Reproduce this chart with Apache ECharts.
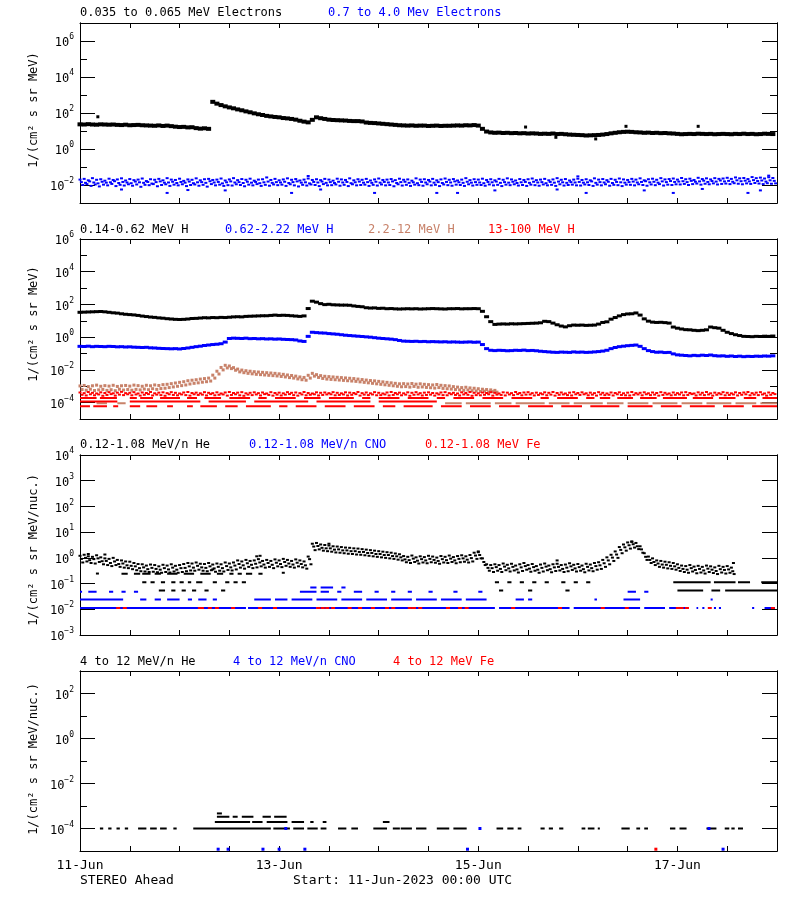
<!DOCTYPE html>
<html><head><meta charset="utf-8">
<script src="https://cdn.jsdelivr.net/npm/echarts@6/dist/echarts.min.js"></script>
<style>html,body{margin:0;padding:0;background:#fff}#c{width:800px;height:900px}</style>
</head><body><div id="c"></div>
<script>
// ===== DATA (log10 of intensity; index = hours since 11-Jun-2023 00:00 UTC) =====
const dateTickLabels = ["11-Jun","13-Jun","15-Jun","17-Jun"];
const dateTickHours = [0,48,96,144];

// Panel 1: 0.035-0.065 MeV electrons (hourly)
const elecLowLog10 = [1.37,1.36,1.38,1.36,1.35,1.37,1.36,1.35,1.36,1.34,1.33,1.35,1.32,1.33,1.34,1.32,1.31,1.30,1.29,1.31,1.28,1.30,1.27,1.24,1.22,1.23,1.20,1.21,1.16,1.13,1.15,1.12,
2.62,2.52,2.44,2.37,2.31,2.26,2.20,2.15,2.09,2.04,1.98,1.93,1.89,1.84,1.81,1.78,1.76,1.72,1.70,1.67,1.63,1.57,1.52,1.48,
1.62,1.76,1.71,1.67,1.63,1.61,1.60,1.59,1.58,1.56,1.55,1.55,1.53,
1.47,1.45,1.44,1.42,1.40,1.38,1.36,1.34,1.32,
1.31,1.30,1.31,1.29,1.30,1.30,1.28,1.29,1.30,1.28,1.29,1.29,1.30,1.31,1.30,1.32,1.31,1.33,1.30,
1.12,0.97,0.92,
0.90,0.91,0.89,0.90,0.88,0.89,0.87,0.88,0.86,0.87,0.86,0.84,0.85,0.84,0.86,0.83,0.84,
0.82,0.80,0.79,0.78,0.77,0.75,0.76,0.77,0.78,0.80,0.83,
0.87,0.90,0.93,0.95,0.96,0.95,
0.93,0.92,0.90,0.91,0.89,0.90,0.88,0.89,
0.87,0.86,0.84,0.82,0.83,0.84,0.83,0.85,
0.84,0.83,0.84,0.82,0.83,0.84,0.83,0.82,0.84,0.83,0.85,0.83,0.84,0.82,0.83,0.85,0.84,0.83];
const elecLowOutliers = [[4.3,1.79],[107.4,1.22],[131.6,1.26],[149,1.26],[124.3,0.56],[114.7,0.65]];

// Panel 1: 0.7-4.0 MeV electrons (three samples per hour: :00, :20, :40)
const elecHighLog10A = [-1.70,-1.66,-1.74,-1.62,-1.71,-1.68,-1.76,-1.65,-1.72,-1.69,-1.63,-1.75,
-1.67,-1.73,-1.70,-1.64,-1.78,-1.68,-1.71,-1.66,-1.74,-1.62,-1.70,-1.72,
-1.65,-1.77,-1.69,-1.71,-1.63,-1.74,-1.68,-1.66,-1.72,-1.70,-1.64,-1.75,
-1.69,-1.62,-1.73,-1.67,-1.71,-1.65,-1.76,-1.70,-1.68,-1.58,-1.72,-1.66,
-1.74,-1.69,-1.63,-1.71,-1.67,-1.75,-1.70,-1.64,-1.72,-1.68,-1.73,-1.66,
-1.70,-1.76,-1.65,-1.69,-1.72,-1.63,-1.74,-1.68,-1.71,-1.66,-1.75,-1.69,
-1.64,-1.72,-1.70,-1.67,-1.73,-1.65,-1.71,-1.69,-1.76,-1.63,-1.70,-1.68,
-1.72,-1.66,-1.74,-1.69,-1.64,-1.71,-1.67,-1.75,-1.70,-1.62,-1.73,-1.68,
-1.70,-1.65,-1.72,-1.68,-1.74,-1.66,-1.71,-1.63,-1.69,-1.75,-1.67,-1.72,
-1.68,-1.64,-1.73,-1.70,-1.66,-1.74,-1.69,-1.62,-1.71,-1.67,-1.75,-1.70,
-1.65,-1.72,-1.68,-1.74,-1.63,-1.70,-1.67,-1.73,-1.66,-1.71,-1.64,-1.69,
-1.72,-1.66,-1.70,-1.63,-1.74,-1.68,-1.65,-1.71,-1.62,-1.69,-1.67,-1.64,
-1.70,-1.61,-1.68,-1.65,-1.72,-1.60,-1.67,-1.63,-1.69,-1.62,-1.66,-1.64,
-1.60,-1.66,-1.58,-1.63,-1.61,-1.67,-1.56,-1.62,-1.59,-1.64,-1.57,-1.61];
const elecHighLog10B = [-1.84,-1.88,-1.80,-1.86,-1.91,-1.82,-1.87,-1.85,-1.79,-1.89,-1.83,-1.86,
-1.90,-1.81,-1.85,-1.88,-1.83,-1.92,-1.84,-1.80,-1.87,-1.86,-1.82,-1.89,
-1.83,-1.87,-1.81,-1.90,-1.85,-1.84,-1.88,-1.79,-1.86,-1.83,-1.91,-1.85,
-1.80,-1.86,-1.84,-1.89,-1.82,-1.87,-1.83,-1.90,-1.85,-1.81,-1.88,-1.84,
-1.86,-1.82,-1.89,-1.84,-1.80,-1.87,-1.85,-1.91,-1.83,-1.86,-1.81,-1.88,
-1.84,-1.89,-1.82,-1.86,-1.83,-1.90,-1.85,-1.81,-1.87,-1.84,-1.88,-1.82,
-1.87,-1.83,-1.86,-1.80,-1.89,-1.84,-1.82,-1.88,-1.85,-1.90,-1.83,-1.86,
-1.81,-1.87,-1.84,-1.89,-1.83,-1.86,-1.80,-1.85,-1.88,-1.82,-1.87,-1.84,
-1.86,-1.90,-1.83,-1.85,-1.81,-1.88,-1.84,-1.87,-1.82,-1.89,-1.85,-1.83,
-1.88,-1.82,-1.86,-1.84,-1.90,-1.83,-1.87,-1.81,-1.85,-1.88,-1.84,-1.86,
-1.83,-1.87,-1.85,-1.80,-1.88,-1.84,-1.86,-1.82,-1.89,-1.83,-1.85,-1.87,
-1.84,-1.81,-1.86,-1.83,-1.79,-1.85,-1.82,-1.87,-1.80,-1.84,-1.78,-1.83,
-1.81,-1.79,-1.84,-1.77,-1.82,-1.80,-1.76,-1.83,-1.78,-1.81,-1.75,-1.80,
-1.77,-1.82,-1.74,-1.79,-1.76,-1.80,-1.73,-1.78,-1.75,-1.81,-1.74,-1.77];
const elecHighLog10C = [-2.00,-1.95,-2.05,-1.97,-2.08,-1.98,-2.02,-1.94,-2.06,-1.99,-2.03,-1.96,
-2.04,-1.97,-2.10,-1.99,-2.01,-1.95,-2.07,-2.00,-1.96,-2.05,-1.98,-2.02,
-1.96,-2.06,-2.00,-1.97,-2.04,-1.99,-2.09,-1.95,-2.02,-1.98,-2.05,-2.01,
-2.03,-1.96,-2.00,-2.07,-1.98,-2.02,-1.95,-2.05,-1.99,-2.04,-1.97,-2.01,
-1.98,-2.05,-1.96,-2.02,-2.08,-1.99,-2.03,-1.97,-2.00,-2.06,-1.95,-2.02,
-2.01,-1.97,-2.04,-1.99,-2.06,-1.96,-2.02,-2.00,-1.98,-2.05,-1.99,-2.03,
-1.97,-2.02,-2.00,-2.07,-1.96,-2.03,-1.99,-2.05,-1.98,-2.01,-2.04,-1.96,
-2.02,-1.99,-2.06,-1.97,-2.01,-2.04,-1.98,-2.00,-2.05,-1.96,-2.03,-1.99,
-2.00,-2.04,-1.97,-2.02,-1.99,-2.06,-1.98,-2.01,-1.96,-2.03,-2.00,-2.05,
-1.98,-2.01,-2.04,-1.97,-2.02,-1.99,-2.05,-1.96,-2.03,-2.00,-1.98,-2.02,
-2.03,-1.97,-2.00,-2.05,-1.98,-2.02,-1.96,-2.04,-1.99,-2.01,-2.06,-1.98,
-1.99,-2.02,-1.96,-2.00,-2.04,-1.97,-2.01,-1.95,-2.03,-1.98,-2.00,-1.96,
-1.97,-1.94,-2.00,-1.95,-1.92,-1.98,-1.93,-1.96,-1.91,-1.97,-1.94,-1.92,
-1.95,-1.90,-1.93,-1.96,-1.91,-1.94,-1.89,-1.92,-1.95,-1.90,-1.93,-1.91];
const elecHighOutliers = [[21,-2.44],[35,-2.30],[26,-2.28],[51,-2.44],[71,-2.44],[86,-2.44],[91,-2.44],[100,-2.30],[122,-2.44],[136,-2.30],[143,-2.44],[161,-2.44],[164,-2.30],[10,-2.25],[58,-2.25],[115,-2.25],[150,-2.22],[55,-1.50],[120,-1.52],[166,-1.48]];

// Panel 2: protons
const hLowLog10 = [1.52,1.53,1.54,1.55,1.56,1.57,1.55,1.52,1.49,1.47,1.43,1.40,
1.38,1.36,1.33,1.29,1.26,1.23,1.21,1.18,1.16,1.13,1.11,1.09,
1.08,1.09,1.11,1.14,1.15,1.17,1.19,1.18,1.20,1.19,1.21,1.20,
1.22,1.24,1.25,1.24,1.27,1.28,1.29,1.30,1.31,1.31,1.33,1.35,
1.33,1.34,1.33,1.31,1.29,1.27,1.30,1.75,2.20,2.14,2.05,1.99,
2.01,1.98,1.97,1.96,1.96,1.95,1.91,1.88,1.86,1.80,1.78,1.79,
1.76,1.77,1.74,1.75,1.73,1.72,1.73,1.74,1.73,1.74,1.72,1.73,
1.74,1.75,1.74,1.73,1.72,1.74,1.74,1.75,1.73,1.74,1.74,1.75,
1.74,1.58,1.25,0.95,0.78,0.80,0.81,0.80,0.82,0.81,0.82,0.83,
0.84,0.85,0.86,0.88,0.97,0.95,0.86,0.76,0.68,0.63,0.70,0.74,
0.73,0.74,0.72,0.73,0.74,0.80,0.90,0.94,1.10,1.20,1.30,1.38,
1.42,1.43,1.48,1.35,1.12,0.98,0.92,0.90,0.91,0.89,0.86,0.62,
0.55,0.50,0.46,0.45,0.42,0.40,0.42,0.45,0.62,0.58,0.55,0.42,
0.30,0.22,0.15,0.10,0.05,0.04,0.03,0.05,0.04,0.06,0.05,0.07];
const hMidLog10 = [-0.56,-0.57,-0.55,-0.58,-0.56,-0.57,-0.58,-0.56,-0.57,-0.59,-0.58,-0.60,
-0.59,-0.61,-0.62,-0.63,-0.62,-0.65,-0.66,-0.68,-0.69,-0.70,-0.71,-0.70,
-0.72,-0.69,-0.66,-0.62,-0.58,-0.55,-0.51,-0.48,-0.45,-0.43,-0.40,-0.30,
-0.08,-0.06,-0.07,-0.08,-0.06,-0.09,-0.08,-0.10,-0.09,-0.11,-0.10,-0.12,
-0.11,-0.13,-0.14,-0.15,-0.17,-0.23,-0.26,0.05,0.30,0.28,0.26,0.25,
0.22,0.20,0.18,0.15,0.12,0.10,0.08,0.06,0.04,0.02,0.00,-0.03,
-0.06,-0.08,-0.10,-0.12,-0.15,-0.20,-0.24,-0.25,-0.26,-0.25,-0.27,-0.26,
-0.28,-0.27,-0.28,-0.29,-0.28,-0.30,-0.29,-0.30,-0.31,-0.30,-0.29,-0.31,
-0.30,-0.45,-0.70,-0.80,-0.82,-0.80,-0.81,-0.83,-0.82,-0.80,-0.81,-0.79,
-0.82,-0.81,-0.83,-0.86,-0.88,-0.90,-0.92,-0.93,-0.91,-0.92,-0.93,-0.90,
-0.92,-0.91,-0.93,-0.92,-0.90,-0.88,-0.85,-0.80,-0.70,-0.63,-0.58,-0.55,
-0.52,-0.50,-0.48,-0.56,-0.70,-0.82,-0.88,-0.92,-0.91,-0.94,-0.93,-1.02,
-1.08,-1.10,-1.12,-1.14,-1.11,-1.13,-1.10,-1.12,-1.09,-1.13,-1.15,-1.14,
-1.17,-1.15,-1.18,-1.16,-1.19,-1.17,-1.18,-1.16,-1.17,-1.15,-1.16,-1.14];
const hHighLog10A = [-2.98,-2.95,-3.02,-2.97,-2.93,-3.00,-2.96,-2.99,-2.94,-3.01,-2.97,-2.95,
-2.99,-2.93,-2.96,-3.00,-2.94,-2.97,-2.92,-2.95,-2.90,-2.88,-2.84,-2.80,
-2.76,-2.72,-2.66,-2.63,-2.60,-2.56,-2.53,-2.50,-2.32,-2.08,-1.85,-1.72,
-1.76,-1.86,-1.95,-2.01,-2.05,-2.08,-2.11,-2.13,-2.15,-2.17,-2.19,-2.21,
-2.24,-2.27,-2.31,-2.34,-2.38,-2.43,-2.46,-2.33,-2.21,-2.29,-2.35,-2.39,
-2.41,-2.43,-2.45,-2.47,-2.49,-2.51,-2.53,-2.56,-2.59,-2.62,-2.65,-2.67,
-2.70,-2.73,-2.76,-2.79,-2.82,-2.85,-2.84,-2.86,-2.83,-2.87,-2.85,-2.88,
-2.90,-2.92,-2.89,-2.94,-2.96,-2.98,-3.02,-3.05,-3.08,-3.06,-3.10,-3.12,
-3.15,-3.18,-3.20,-3.22,-3.25];
const hHighLog10B = [-3.20,-3.24,-3.18,-3.26,-3.22,-3.19,-3.25,-3.21,-3.27,-3.18,-3.23,-3.20,
-3.24,-3.19,-3.22,-3.17,-3.21,-3.15,-3.19,-3.14,-3.12,-3.08,-3.04,-3.00,
-2.96,-2.92,-2.86,-2.82,-2.79,-2.75,-2.72,-2.68,-2.50,-2.25,-2.00,-1.88,
-1.92,-2.02,-2.12,-2.17,-2.21,-2.24,-2.27,-2.29,-2.31,-2.33,-2.35,-2.37,
-2.40,-2.43,-2.47,-2.50,-2.55,-2.60,-2.63,-2.50,-2.38,-2.46,-2.52,-2.56,
-2.58,-2.60,-2.62,-2.64,-2.66,-2.68,-2.70,-2.73,-2.76,-2.79,-2.82,-2.85,
-2.88,-2.91,-2.94,-2.97,-3.00,-3.03,-3.02,-3.05,-3.01,-3.06,-3.04,-3.07,
-3.09,-3.11,-3.08,-3.13,-3.15,-3.17,-3.20,-3.22,-3.25,-3.23,-3.27,-3.29,
-3.32,-3.30,-3.35,-3.33,-3.36];
const hHighFloorLevel = -4.04;
const hHighFloorSegs = [[4,6.5],[9,11],[88,92],[93,99],[100,104],[105,112],[113,118],[119,126],[127,131],[132,137],[138,144],[145,150],[151,157],[158,163],[164,168]];
const hVHighTopA = [-3.38,-3.42,-3.35,-3.40,-3.44,-3.37,-3.41,-3.36,-3.43,-3.39,-3.34,-3.42,
-3.40,-3.36,-3.44,-3.38,-3.41,-3.35,-3.43,-3.39,-3.37,-3.42,-3.36,-3.40,
-3.44,-3.38,-3.35,-3.41,-3.39,-3.43,-3.36,-3.40,-3.42,-3.37,-3.44,-3.38,
-3.35,-3.41,-3.39,-3.36,-3.43,-3.40,-3.37,-3.42,-3.38,-3.44,-3.36,-3.41,
-3.39,-3.43,-3.36,-3.40,-3.38,-3.42,-3.35,-3.41,-3.44,-3.37,-3.40,-3.38,
-3.42,-3.36,-3.40,-3.43,-3.37,-3.39,-3.41,-3.35,-3.42,-3.38,-3.43,-3.36,
-3.40,-3.44,-3.38,-3.35,-3.41,-3.39,-3.43,-3.37,-3.40,-3.36,-3.42,-3.39,
-3.37,-3.41,-3.43,-3.38,-3.36,-3.42,-3.40,-3.44,-3.37,-3.41,-3.35,-3.40,
-3.43,-3.38,-3.41,-3.36,-3.40,-3.44,-3.37,-3.39,-3.42,-3.35,-3.41,-3.38,
-3.36,-3.42,-3.39,-3.43,-3.37,-3.40,-3.35,-3.41,-3.38,-3.44,-3.39,-3.36,
-3.41,-3.37,-3.43,-3.39,-3.42,-3.36,-3.40,-3.44,-3.38,-3.41,-3.37,-3.43,
-3.39,-3.35,-3.42,-3.40,-3.37,-3.43,-3.38,-3.41,-3.36,-3.40,-3.44,-3.38,
-3.42,-3.38,-3.36,-3.41,-3.44,-3.37,-3.40,-3.35,-3.43,-3.39,-3.42,-3.36,
-3.40,-3.43,-3.37,-3.41,-3.38,-3.35,-3.42,-3.39,-3.36,-3.44,-3.38,-3.41];
const hVHighTopB = [-3.52,-3.56,-3.49,-3.55,-3.50,-3.58,-3.53,-3.48,-3.57,-3.51,-3.54,-3.49,
-3.55,-3.50,-3.57,-3.52,-3.48,-3.56,-3.51,-3.54,-3.58,-3.49,-3.53,-3.55,
-3.50,-3.54,-3.57,-3.49,-3.53,-3.51,-3.56,-3.48,-3.55,-3.52,-3.50,-3.57,
-3.53,-3.49,-3.55,-3.58,-3.51,-3.54,-3.50,-3.56,-3.48,-3.53,-3.57,-3.51,
-3.56,-3.51,-3.48,-3.54,-3.57,-3.50,-3.55,-3.52,-3.49,-3.56,-3.53,-3.50,
-3.49,-3.55,-3.53,-3.50,-3.56,-3.52,-3.48,-3.57,-3.51,-3.54,-3.50,-3.55,
-3.54,-3.50,-3.56,-3.53,-3.49,-3.55,-3.51,-3.58,-3.52,-3.50,-3.56,-3.53,
-3.51,-3.57,-3.50,-3.54,-3.55,-3.49,-3.53,-3.56,-3.50,-3.52,-3.58,-3.54,
-3.55,-3.52,-3.49,-3.57,-3.51,-3.53,-3.56,-3.50,-3.54,-3.48,-3.55,-3.51,
-3.50,-3.56,-3.53,-3.49,-3.55,-3.51,-3.57,-3.52,-3.50,-3.54,-3.56,-3.49,
-3.53,-3.49,-3.55,-3.51,-3.57,-3.50,-3.54,-3.52,-3.56,-3.49,-3.53,-3.55,
-3.56,-3.52,-3.50,-3.55,-3.49,-3.54,-3.51,-3.57,-3.53,-3.50,-3.55,-3.52,
-3.50,-3.55,-3.53,-3.48,-3.56,-3.51,-3.54,-3.50,-3.57,-3.52,-3.49,-3.55,
-3.53,-3.50,-3.56,-3.52,-3.49,-3.55,-3.51,-3.54,-3.50,-3.57,-3.52,-3.48];
const hVHighRow372Level = -3.72;
const hVHighRow372Segs = [[0,4],[4.8,8.9],[12,13.7],[14.5,17.6],[19.3,24.1],[25.8,28.2],[30,34],[36,41],[43,45],[47,52],[54,58],[60,66],[68,70],[72,77],[79,84],[86,88],[90,95],[97,102],[104,109],[111,113],[115,120],[122,124],[125.3,127.8],[129.5,133.3],[135,139],[140.5,146.3],[147.7,152.6],[154,158],[160,163],[164.5,168]];
const hVHighRow393Level = -3.93;
const hVHighRow393Segs = [[0,9],[12,29],[31,40],[42,55],[57,70],[72,86]];
const hVHighRow422Level = -4.22;
const hVHighRow422Segs = [[0,2.4],[3.2,6.5],[8,9.2],[12,14.5],[16,18.6],[21,22.4],[25.8,27.2],[29,33],[35,38],[40,46],[48,50],[52,57],[59,64],[66,71],[73,76],[78,85],[87,92],[94,99],[101,106],[108,114],[116,121],[123,130],[132,138],[140,145],[147,153],[155,160],[162,168]];

// Panel 3: 0.12-1.08 MeV/n (He three samples per hour)
const heLowLog10A = [0.08,0.12,0.06,0.04,0.10,0.02,-0.02,-0.04,0.00,-0.08,-0.10,-0.14,
-0.15,-0.20,-0.24,-0.25,-0.30,-0.26,-0.28,-0.33,-0.27,-0.30,-0.25,-0.31,
-0.28,-0.24,-0.20,-0.22,-0.18,-0.23,-0.24,-0.20,-0.26,-0.22,-0.25,-0.18,
-0.22,-0.18,-0.10,-0.14,-0.08,-0.12,-0.10,-0.05,-0.12,-0.08,-0.12,-0.06,
-0.10,-0.04,-0.08,-0.12,-0.06,-0.10,-0.14,0.05,0.55,0.58,0.52,0.50,
0.48,0.45,0.44,0.42,0.40,0.39,0.37,0.36,0.34,0.32,0.30,0.28,
0.26,0.24,0.22,0.20,0.17,0.14,0.07,0.04,0.09,0.02,0.06,0.03,
0.08,0.05,0.01,0.07,0.04,0.09,0.03,0.07,0.10,0.06,0.11,0.20,
0.22,-0.02,-0.25,-0.28,-0.25,-0.28,-0.22,-0.27,-0.23,-0.30,-0.25,-0.20,
-0.28,-0.24,-0.32,-0.26,-0.22,-0.30,-0.25,-0.23,-0.28,-0.26,-0.21,-0.27,
-0.24,-0.30,-0.23,-0.26,-0.20,-0.17,-0.08,0.02,0.12,0.25,0.42,0.52,
0.60,0.64,0.58,0.45,0.18,0.05,-0.02,-0.10,-0.12,-0.15,-0.17,-0.20,
-0.25,-0.30,-0.32,-0.28,-0.34,-0.31,-0.35,-0.30,-0.33,-0.37,-0.31,-0.35,
-0.32,-0.38];
const heLowLog10B = [-0.18,-0.14,-0.20,-0.22,-0.16,-0.25,-0.28,-0.32,-0.28,-0.35,-0.38,-0.40,
-0.44,-0.48,-0.52,-0.53,-0.55,-0.54,-0.56,-0.58,-0.55,-0.57,-0.53,-0.58,
-0.55,-0.52,-0.49,-0.50,-0.46,-0.50,-0.52,-0.48,-0.54,-0.50,-0.53,-0.47,
-0.49,-0.45,-0.38,-0.42,-0.35,-0.40,-0.37,-0.33,-0.38,-0.35,-0.40,-0.33,
-0.36,-0.31,-0.35,-0.38,-0.33,-0.37,-0.42,-0.25,0.30,0.33,0.28,0.26,
0.24,0.21,0.20,0.18,0.16,0.15,0.13,0.12,0.10,0.08,0.06,0.04,
0.02,0.00,-0.02,-0.04,-0.07,-0.10,-0.17,-0.20,-0.16,-0.22,-0.18,-0.21,
-0.17,-0.19,-0.23,-0.18,-0.20,-0.16,-0.21,-0.17,-0.15,-0.18,-0.14,-0.04,
-0.02,-0.28,-0.50,-0.55,-0.50,-0.55,-0.48,-0.53,-0.49,-0.57,-0.51,-0.46,
-0.54,-0.50,-0.58,-0.53,-0.48,-0.56,-0.51,-0.49,-0.55,-0.52,-0.47,-0.53,
-0.50,-0.56,-0.49,-0.52,-0.46,-0.43,-0.35,-0.25,-0.12,0.00,0.18,0.28,
0.36,0.40,0.34,0.20,-0.08,-0.20,-0.28,-0.35,-0.38,-0.41,-0.43,-0.46,
-0.51,-0.55,-0.58,-0.53,-0.60,-0.57,-0.61,-0.55,-0.59,-0.63,-0.57,-0.61,
-0.58,-0.63];
const heLowLog10C = [-0.04,0.00,-0.09,-0.05,-0.02,-0.13,-0.12,-0.20,-0.14,-0.24,-0.22,-0.29,
-0.31,-0.33,-0.40,-0.37,-0.44,-0.39,-0.43,-0.46,-0.40,-0.45,-0.38,-0.46,
-0.40,-0.39,-0.33,-0.38,-0.31,-0.37,-0.39,-0.33,-0.41,-0.35,-0.40,-0.32,
-0.37,-0.30,-0.24,-0.29,-0.21,-0.27,-0.23,-0.18,-0.26,-0.20,-0.27,-0.19,
-0.24,-0.16,-0.22,-0.26,-0.19,-0.24,-0.29,-0.05,0.44,0.46,0.39,0.37,
0.37,0.32,0.33,0.29,0.29,0.26,0.26,0.23,0.23,0.19,0.19,0.15,
0.15,0.11,0.11,0.07,0.06,0.02,-0.06,-0.09,-0.03,-0.11,-0.05,-0.10,
-0.04,-0.08,-0.12,-0.05,-0.09,-0.03,-0.10,-0.04,-0.02,-0.07,-0.01,0.09,
0.11,-0.16,-0.39,-0.40,-0.36,-0.43,-0.34,-0.41,-0.35,-0.45,-0.37,-0.32,
-0.42,-0.36,-0.46,-0.39,-0.34,-0.44,-0.37,-0.35,-0.43,-0.38,-0.33,-0.41,
-0.36,-0.44,-0.35,-0.40,-0.32,-0.29,-0.21,-0.10,0.01,0.13,0.31,0.41,
0.49,0.53,0.45,0.33,0.04,-0.08,-0.16,-0.22,-0.26,-0.27,-0.31,-0.33,
-0.39,-0.43,-0.46,-0.40,-0.47,-0.43,-0.49,-0.42,-0.46,-0.51,-0.44,-0.47,
-0.45,-0.52];
const heLowOutliers = [[4.2,-0.61],[6,0.13],[2,0.15],[42.6,0.06],[43.4,0.08],[49,-0.58],[32,-0.45],[157.5,-0.2],[133,0.62],[60,0.55],[96,0.25],[115,-0.1]];
const heLowRow062Level = -0.62;
const heLowRow062Segs = [[10,11.5],[13,14.5],[15,17],[18,19.5],[21,23.5],[25,27.5],[29,31.5],[33,34.5],[36,37],[38,39],[40,41.5],[43,44]];
const heLowRow095Level = -0.95;
const heLowRow095Segs = [[15,16],[17,18],[19.5,20.5],[22,23],[24,25],[26,26.8],[28,29.5],[32,33],[35,36],[37,38],[39,40],[100,101],[103,104],[106,107],[109,110],[112,113],[116,117],[119,120],[122,123],[143,152],[152.8,158],[158.6,161.5],[164.2,168]];
const heLowRow127Level = -1.27;
const heLowRow127Segs = [[19,20.5],[22,23],[24.5,25.5],[27,28],[30,31],[34,35],[101,102],[108,109],[117,118],[144,150.2],[152.2,154.3],[155.5,168]];
const cnoLowRow195Level = -1.95;
const cnoLowRow195Segs = [[0,40],[40.5,57],[57.8,100],[101,118],[119,135],[136,141],[142,146],[148.6,149],[150,150.5],[151.5,152],[152.8,153.3],[154,154.5],[162,162.5],[165,167.5]];
const cnoLowRow162Level = -1.62;
const cnoLowRow162Segs = [[0,10.4],[14.5,16],[18,19.5],[21,24],[26,27],[28.5,30.5],[32,33],[42,46],[47,50],[51,56],[57,62],[63,68],[69,74],[75,80],[81,86],[87,92],[93,98],[105,107],[108,109],[124,124.6],[131,135],[152,152.5]];
const cnoLowRow132Level = -1.32;
const cnoLowRow132Segs = [[0,0.5],[2,4],[7,8],[10,11],[13,14],[53,57],[58,60],[62,63],[66,68],[71,72],[75,76],[79,80],[84,85],[90,91],[96,97],[132,134],[136,137]];
const cnoLowRow115Level = -1.15;
const cnoLowRow115Segs = [[55.5,57],[58,61],[63,64]];
const feLowLevel = -1.95;
const feLowHours = [9.2,10.8,28.9,29.4,31.3,33,36.9,43.4,47,57.4,58.5,59.6,61,65,67.5,70.6,74,75.5,79.5,80.5,82,88.7,91.6,93.2,104.4,115.7,126,131.8,144.1,145,146.3,151.8,167];

// Panel 4: 4-12 MeV/n
const heHighRow400Level = -4.0;
const heHighRow400Segs = [[4.8,5.6],[6.8,7.6],[8.8,9.6],[10.8,11.6],[14,16],[16.9,18.5],[19.3,20.9],[22.5,23.3],[27.3,46],[46.6,50.6],[51.4,54],[54.8,57.3],[58,59.4],[62.2,64.2],[65.4,67],[70.7,74],[75.4,77.1],[77.3,80],[81,83.5],[86,89],[90,93.2],[100.4,102],[103,104.5],[105.5,106.4],[111,112],[113,114],[115.5,116.5],[120.9,121.8],[122.4,124],[124.8,125.3],[130.5,132.5],[134.1,135],[136,136.9],[142.2,143.5],[144.5,146.2],[151,153.4],[155.4,156.5],[157,157.8],[158.6,159.8]];
const heHighRow371Level = -3.71;
const heHighRow371Segs = [[32.5,41],[41.5,44],[45,50],[51,54],[55.5,56.3],[58.5,59.4],[73,74.6]];
const heHighRow348Level = -3.48;
const heHighRow348Segs = [[33,36],[36.8,38],[39,41.8],[44,46],[46.8,49.8]];
const heHighRow333Level = -3.33;
const heHighRow333Segs = [[33,34.2]];
const cnoHighPoints = [[33.3,-4.92],[35.7,-4.92],[44.1,-4.92],[48,-4.92],[54.2,-4.92],[93.4,-4.92],[155,-4.92],[49.6,-4.0],[96.4,-4.0],[151.6,-4.0]];
const feHighPoints = [[138.8,-4.92]];

// Texts
const panelTitles = [
  ["0.035 to 0.065 MeV Electrons","0.7 to 4.0 Mev Electrons"],
  ["0.14-0.62 MeV H","0.62-2.22 MeV H","2.2-12 MeV H","13-100 MeV H"],
  ["0.12-1.08 MeV/n He","0.12-1.08 MeV/n CNO","0.12-1.08 MeV Fe"],
  ["4 to 12 MeV/n He","4 to 12 MeV/n CNO","4 to 12 MeV Fe"]];
const yTitles = ["1/(cm\u00b2 s sr MeV)","1/(cm\u00b2 s sr MeV)","1/(cm\u00b2 s sr MeV/nuc.)","1/(cm\u00b2 s sr MeV/nuc.)"];
const footerLeft = "STEREO Ahead";
const footerStart = "Start: 11-Jun-2023 00:00 UTC";
const yRanges = [[-3,7],[-5,6],[-3,4],[-5,3]];
const yLabelExps = [[-2,0,2,4,6],[-4,-2,0,2,4,6],[-3,-2,-1,0,1,2,3,4],[-4,-2,0,2]];

// ===== LAYOUT / STYLE =====
const BLACK='#000000', BLUE='#0000ff', SALMON='#c8826a', RED='#ff0000';
const titleColors = [[BLACK,BLUE],[BLACK,BLUE,SALMON,RED],[BLACK,BLUE,RED],[BLACK,BLUE,RED]];
const titleX = [[80,328],[80,225,368,488],[80,249,425],[80,233,393]];
const titleY = [13,229.5,445,662];
const yTitleY = [110,324,550,759];
const GRID_TOPS = [23,239,455,671];
const FONT = 'DejaVu Sans Mono';

// sample offset (in hours) of each sub-sample series within the hour
function hourPts(arr, off){ const o = off||0; const out=[]; arr.forEach((v,i)=>{ if(v!==null) out.push([i+o,v]); }); return out; }
function rowPts(segs, level){ const out=[]; segs.forEach(s=>{ out.push([s[0],level],[s[1],level],[s[1],null]); }); return out; }
function sc(g,data,color,size,z){ return {type:'scatter',xAxisIndex:2*g,yAxisIndex:4*g,data:data,symbol:'rect',symbolSize:size,itemStyle:{color:color,opacity:1},silent:true,z:z||2,animation:false}; }
function ln(g,data,color,w,z){ return {type:'line',xAxisIndex:2*g,yAxisIndex:4*g,data:data,symbol:'none',showSymbol:false,connectNulls:false,lineStyle:{color:color,width:w||2},silent:true,z:z||2,animation:false}; }
function expLabel(v){ const e = v<0 ? '\u2212'+(-v) : String(v); return '{b|10}{e|'+e+'}'; }

const grids=[], xAxes=[], yAxes=[];
for(let g=0; g<4; g++){
  grids.push({left:80, top:GRID_TOPS[g], width:697, height:180, containLabel:false});
  const xc = {type:'value', gridIndex:g, min:0, max:168, interval:12, splitLine:{show:false},
    axisLine:{show:true,onZero:false,lineStyle:{color:'#000',width:1}},
    axisTick:{show:true,inside:true,length:5,lineStyle:{color:'#000',width:1}}};
  xAxes.push(Object.assign({}, xc, {position:'bottom', axisLabel: g===3 ? {show:true, customValues:dateTickHours,
    formatter:(v)=>dateTickLabels[dateTickHours.indexOf(Math.round(v))], fontFamily:FONT, fontSize:13, color:'#000', margin:8} : {show:false}}));
  xAxes.push(Object.assign({}, xc, {position:'top', axisLabel:{show:false}}));
  const [ymin,ymax] = yRanges[g];
  const yc = {type:'value', gridIndex:g, min:ymin, max:ymax, interval:1, splitLine:{show:false},
    axisLine:{show:true,onZero:false,lineStyle:{color:'#000',width:1}}};
  const minorTick = {show:true,inside:true,length:7,lineStyle:{color:'#000',width:1}};
  const majorTick = {show:true,inside:true,length:15,customValues:yLabelExps[g],lineStyle:{color:'#000',width:1}};
  yAxes.push(Object.assign({}, yc, {position:'left', axisTick:minorTick, axisLabel:{show:false}}));
  yAxes.push(Object.assign({}, yc, {position:'left', axisTick:majorTick, axisLabel:{show:true, customValues:yLabelExps[g], formatter:expLabel, margin:6,
    rich:{ b:{fontFamily:FONT,fontSize:12,height:12,lineHeight:16,verticalAlign:'bottom',color:'#000'},
           e:{fontFamily:FONT,fontSize:8,height:8,lineHeight:16,padding:[0,0,8,0],verticalAlign:'top',color:'#000'} }}}));
  yAxes.push(Object.assign({}, yc, {position:'right', axisTick:minorTick, axisLabel:{show:false}}));
  yAxes.push(Object.assign({}, yc, {position:'right', axisTick:majorTick, axisLabel:{show:false}}));
}

const series = [];
// Panel 1
series.push(sc(0, hourPts(elecLowLog10), BLACK, [5,4]));
series.push(sc(0, elecLowOutliers, BLACK, [3,3]));
series.push(sc(0, hourPts(elecHighLog10A, 0), BLUE, [3,2]));
series.push(sc(0, hourPts(elecHighLog10B, 1/3), BLUE, [3,2]));
series.push(sc(0, hourPts(elecHighLog10C, 2/3), BLUE, [3,2]));
series.push(sc(0, elecHighOutliers, BLUE, [3,2]));
// Panel 2
series.push(sc(1, hourPts(hLowLog10), BLACK, [5,3]));
series.push(sc(1, hourPts(hMidLog10), BLUE, [5,3]));
series.push(sc(1, hourPts(hHighLog10A, 0), SALMON, [3,3]));
series.push(sc(1, hourPts(hHighLog10B, 0.5), SALMON, [3,3]));
series.push(ln(1, rowPts(hHighFloorSegs, hHighFloorLevel), SALMON, 2));
series.push(sc(1, hourPts(hVHighTopA, 0), RED, [3,2], 3));
series.push(sc(1, hourPts(hVHighTopB, 0.5), RED, [3,2], 3));
series.push(ln(1, rowPts(hVHighRow372Segs, hVHighRow372Level), RED, 2, 3));
series.push(ln(1, rowPts(hVHighRow393Segs, hVHighRow393Level), RED, 2, 3));
series.push(ln(1, rowPts(hVHighRow422Segs, hVHighRow422Level), RED, 2, 3));
// Panel 3
series.push(sc(2, hourPts(heLowLog10A, 0), BLACK, [3,2]));
series.push(sc(2, hourPts(heLowLog10C, 1/3), BLACK, [3,2]));
series.push(sc(2, hourPts(heLowLog10B, 2/3), BLACK, [3,2]));
series.push(sc(2, heLowOutliers, BLACK, [3,2]));
series.push(ln(2, rowPts(heLowRow062Segs, heLowRow062Level), BLACK, 2));
series.push(ln(2, rowPts(heLowRow095Segs, heLowRow095Level), BLACK, 2));
series.push(ln(2, rowPts(heLowRow127Segs, heLowRow127Level), BLACK, 2));
series.push(ln(2, rowPts(cnoLowRow195Segs, cnoLowRow195Level), BLUE, 2, 3));
series.push(ln(2, rowPts(cnoLowRow162Segs, cnoLowRow162Level), BLUE, 2, 3));
series.push(ln(2, rowPts(cnoLowRow132Segs, cnoLowRow132Level), BLUE, 2, 3));
series.push(ln(2, rowPts(cnoLowRow115Segs, cnoLowRow115Level), BLUE, 2, 3));
series.push(sc(2, feLowHours.map(h=>[h, feLowLevel]), RED, [4,2], 4));
// Panel 4
series.push(ln(3, rowPts(heHighRow400Segs, heHighRow400Level), BLACK, 2));
series.push(ln(3, rowPts(heHighRow371Segs, heHighRow371Level), BLACK, 2));
series.push(ln(3, rowPts(heHighRow348Segs, heHighRow348Level), BLACK, 2));
series.push(ln(3, rowPts(heHighRow333Segs, heHighRow333Level), BLACK, 2));
series.push(sc(3, cnoHighPoints, BLUE, [3,3], 3));
series.push(sc(3, feHighPoints, RED, [3,3], 4));

const graphics = [];
panelTitles.forEach((list,g)=>{
  list.forEach((t,i)=>{
    graphics.push({type:'text', x:titleX[g][i], y:titleY[g], silent:true,
      style:{text:t, fill:titleColors[g][i], font:'12px "'+FONT+'"', textAlign:'left', textVerticalAlign:'middle', align:'left', verticalAlign:'middle'}});
  });
  graphics.push({type:'text', x:34, y:yTitleY[g], rotation:Math.PI/2, silent:true,
    style:{text:yTitles[g], fill:'#000', font:'12px "'+FONT+'"', textAlign:'center', textVerticalAlign:'middle', align:'center', verticalAlign:'middle'}});
});
graphics.push({type:'text', x:80, y:881, silent:true, style:{text:footerLeft, fill:'#000', font:'13px "'+FONT+'"', textAlign:'left', textVerticalAlign:'middle', align:'left', verticalAlign:'middle'}});
graphics.push({type:'text', x:293, y:881, silent:true, style:{text:footerStart, fill:'#000', font:'13px "'+FONT+'"', textAlign:'left', textVerticalAlign:'middle', align:'left', verticalAlign:'middle'}});

const chart = echarts.init(document.getElementById('c'), null, {renderer:'canvas', width:800, height:900});
chart.setOption({
  animation:false,
  backgroundColor:'#ffffff',
  grid:grids, xAxis:xAxes, yAxis:yAxes, series:series, graphic:graphics
});
</script>
</body></html>
